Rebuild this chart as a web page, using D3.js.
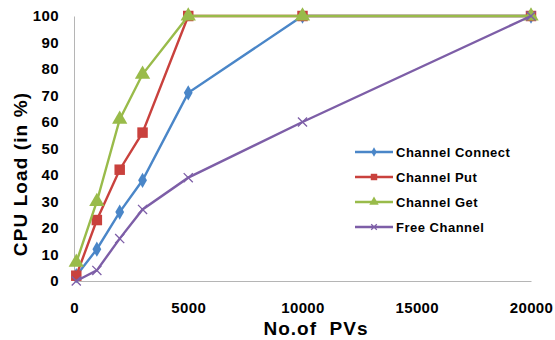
<!DOCTYPE html>
<html>
<head>
<meta charset="utf-8">
<script src="https://cdn.jsdelivr.net/npm/d3@7/dist/d3.min.js"></script>
<style>
  html, body { margin: 0; padding: 0; background: #fff; }
  svg { display: block; font-family: Arial, "Liberation Sans", sans-serif; }
</style>
</head>
<body>
<svg id="chart" width="555" height="340"></svg>
<script>
// Number of PVs on the x axis
const pvCounts = [100, 1000, 2000, 3000, 5000, 10000, 20000];

// CPU load (%) per operation
const channelConnect = [2, 12, 26, 38, 71, 100, 100];
const channelPut     = [2, 23, 42, 56, 100, 100, 100];
const channelGet     = [7, 30, 61, 78, 100, 100, 100];
const freeChannel    = [0, 4, 16, 27, 39, 60, 100];

const seriesNames = ["Channel Connect", "Channel Put", "Channel Get", "Free Channel"];
const seriesValues = [channelConnect, channelPut, channelGet, freeChannel];
const seriesColors = ["#4a86c8", "#c9413d", "#99bb4a", "#7d5ea7"];
const seriesMarkers = ["diamond", "square", "triangle", "cross"];

const xTicks = [0, 5000, 10000, 15000, 20000];
const yTicks = [0, 10, 20, 30, 40, 50, 60, 70, 80, 90, 100];

const svg = d3.select("#chart");
const margin = { left: 74, right: 24, top: 16, bottom: 59 };
const W = 555, H = 340;

const x = d3.scaleLinear().domain([0, 20000]).range([margin.left, W - margin.right]);
const y = d3.scaleLinear().domain([0, 100]).range([H - margin.bottom, margin.top]);

// Axes
const xAxis = svg.append("g")
  .attr("transform", `translate(0,${y(0)})`)
  .call(d3.axisBottom(x).tickValues(xTicks).tickSize(0).tickPadding(21).tickFormat(d3.format("d")));
const yAxis = svg.append("g")
  .attr("transform", `translate(${x(0)},0)`)
  .call(d3.axisLeft(y).tickValues(yTicks).tickSize(0).tickPadding(15));

[xAxis, yAxis].forEach(a => {
  a.select(".domain").attr("stroke", "#b5b5b5").attr("stroke-width", 1);
  a.selectAll("text").attr("font-size", 15).attr("font-weight", "bold")
    .attr("letter-spacing", 0.4)
    .attr("fill", "#000").attr("font-family", "Arial, 'Liberation Sans', sans-serif");
});

// Axis titles
svg.append("text")
  .attr("x", 316).attr("y", 335)
  .attr("text-anchor", "middle").attr("font-size", 19).attr("font-weight", "bold")
  .attr("letter-spacing", 1).style("white-space", "pre")
  .text("No.of  PVs");
svg.append("text")
  .attr("transform", `translate(27,174) rotate(-90)`)
  .attr("text-anchor", "middle").attr("font-size", 19).attr("font-weight", "bold")
  .attr("letter-spacing", 1.1)
  .text("CPU Load (in %)");

function drawMarker(g, type, color, size) {
  if (type === "diamond") {
    g.append("path").attr("d", d3.symbol(d3.symbolDiamond, size * size * 1.6)()).attr("fill", color);
  } else if (type === "square") {
    g.append("path").attr("d", d3.symbol(d3.symbolSquare, size * size * 2.6)()).attr("fill", color);
  } else if (type === "triangle") {
    g.append("path").attr("d", d3.symbol(d3.symbolTriangle, size * size * 2.4)()).attr("fill", color);
  } else {
    const s = size * 0.7;
    g.append("path").attr("d", `M${-s},${-s}L${s},${s}M${-s},${s}L${s},${-s}`)
      .attr("stroke", color).attr("stroke-width", 1.3).attr("fill", "none");
  }
}

const line = d3.line().x(d => x(d[0])).y(d => y(d[1]));

seriesValues.forEach((vals, i) => {
  const pts = pvCounts.map((p, j) => [p, vals[j]]);
  const g = svg.append("g");
  g.append("path").datum(pts).attr("d", line)
    .attr("fill", "none").attr("stroke", seriesColors[i]).attr("stroke-width", 2.4);
  pts.forEach(p => {
    const m = g.append("g").attr("transform", `translate(${x(p[0])},${y(p[1])})`);
    drawMarker(m, seriesMarkers[i], seriesColors[i], 6.5);
  });
});

// Legend
const legend = svg.append("g").attr("transform", "translate(355,152)");
seriesNames.forEach((name, i) => {
  const row = legend.append("g").attr("transform", `translate(0,${i * 25})`);
  row.append("line").attr("x1", 0).attr("x2", 38).attr("y1", 0).attr("y2", 0)
    .attr("stroke", seriesColors[i]).attr("stroke-width", 2.4);
  const m = row.append("g").attr("transform", "translate(19,0)");
  drawMarker(m, seriesMarkers[i], seriesColors[i], 4);
  row.append("text").attr("x", 41).attr("y", 5)
    .attr("font-size", 13).attr("font-weight", "bold").attr("letter-spacing", 0.5).text(name);
});
</script>
</body>
</html>
